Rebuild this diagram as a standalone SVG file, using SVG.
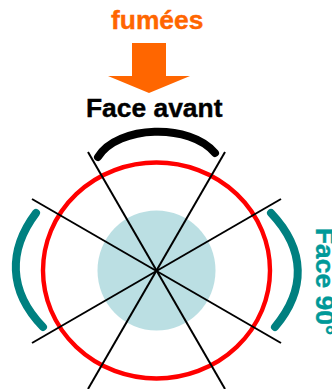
<svg xmlns="http://www.w3.org/2000/svg" width="332" height="389" viewBox="0 0 332 389">
<style>
text{font-family:"Liberation Sans",Arial,sans-serif;font-weight:bold;font-size:26.4px;stroke-width:.4}
.l{stroke:#000;stroke-width:2;fill:none}
.a{fill:none;stroke-width:8;stroke-linecap:round}
</style>
<rect width="332" height="389" fill="#fff"/>
<g id="disc"><ellipse cx="156.5" cy="270.5" rx="59" ry="60" fill="#bbdfe3"/></g>
<g id="cercle"><ellipse cx="156.5" cy="270.5" rx="113.5" ry="108" fill="none" stroke="#f00" stroke-width="4.4"/></g>
<g id="connectors">
<line class="l" x1="32" y1="199" x2="281" y2="343"/>
<line class="l" x1="32" y1="343" x2="281" y2="199"/>
<line class="l" x1="88" y1="152" x2="225" y2="389"/>
<line class="l" x1="225" y1="152" x2="88" y2="389"/>
</g>
<g id="fumees"><text x="111" y="29" fill="#ff6600" stroke="#ff6600">fumées</text>
<polygon points="132,43 166,43 166,76 190,76 149,93 108,76 132,76" fill="#ff6600"/></g>
<g id="face-avant"><text x="86" y="117" fill="#000" stroke="#000">Face avant</text>
<path class="a" stroke="#000" d="M98,157 C118,125 190,123 215,153"/></g>
<g id="face-gauche"><path class="a" stroke="#008080" d="M36,213 C8,250 8,291 43,327"/></g>
<g id="face-90"><path class="a" stroke="#008080" d="M271,213 C306,250 306,290 275,327"/>
<text transform="translate(316,228) rotate(90)" fill="#009999" stroke="#009999">Face 90°</text></g>
</svg>
